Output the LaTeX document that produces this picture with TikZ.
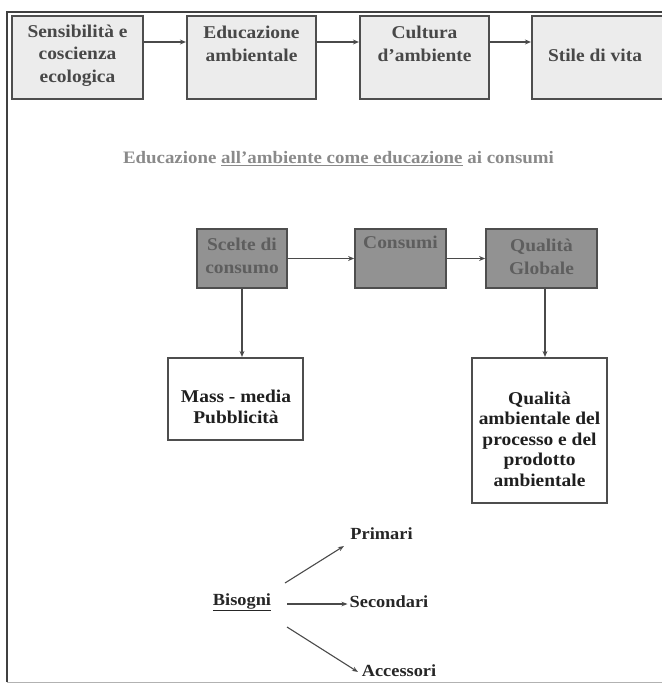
\documentclass[tikz,border=0pt]{standalone}
\usepackage{fontspec}
\setmainfont{Liberation Serif}[FakeStretch=1.08]
\usetikzlibrary{arrows.meta}
\definecolor{topfill}{HTML}{ECECEC}
\definecolor{midfill}{HTML}{929292}
\definecolor{boxline}{HTML}{4E4E4E}
\definecolor{toptext}{HTML}{484848}
\definecolor{midtext}{HTML}{5E5E5E}
\definecolor{titletext}{HTML}{8A8A8A}
\definecolor{arrowcol}{HTML}{4A4A4A}
\tikzset{
  topbox/.style={draw=boxline, line width=2.2pt, fill=topfill, inner sep=0pt},
  midbox/.style={draw=boxline, line width=1.8pt, fill=midfill, inner sep=0pt},
  lowbox/.style={draw=boxline, line width=2.2pt, fill=white, inner sep=0pt},
  toplabel/.style={inner sep=0pt, align=center, text=toptext, font=\bfseries\fontsize{18}{22.5}\selectfont},
  midlabel/.style={inner sep=0pt, align=center, text=midtext, font=\bfseries\fontsize{18}{23}\selectfont},
  lowlabel/.style={inner sep=0pt, align=center, text=black!88, font=\bfseries\fontsize{18}{20.5}\selectfont},
  plainlabel/.style={inner sep=0pt, text=black!85, font=\bfseries\fontsize{17}{20}\selectfont},
  conn/.style={draw=arrowcol, line width=1.7pt, -{Stealth[length=6pt,width=5pt]}},
  thinconn/.style={draw=arrowcol, line width=1.1pt, -{Stealth[length=6pt,width=4.5pt]}}
}
\begin{document}
\begin{tikzpicture}[x=1pt,y=-1pt]
\useasboundingbox (0,0) rectangle (661,685);
% outer frame
\coordinate (fbl) at (7,682);
\coordinate (ftl) at (7,12);
\coordinate (ftr) at (670,12);
\coordinate (fbr) at (670,682);
\draw[black!75, line width=1.4pt] (fbl) -- (ftl) -- (ftr);
\draw[black!30, line width=1pt] (fbl) -- (fbr);

% top row
\node[topbox, minimum width=131pt, minimum height=83pt] (b1) at (77.5,57.5) {};
\node[topbox, minimum width=129pt, minimum height=83pt] (b2) at (251.5,57.5) {};
\node[topbox, minimum width=129pt, minimum height=83pt] (b3) at (424.5,57.5) {};
\node[topbox, minimum width=132pt, minimum height=83pt] (b4) at (598,57.5) {};
\node[toplabel] (t1) at (77.5,55.5) {Sensibilità e\\coscienza\\ecologica};
\node[toplabel] (t2) at (251.5,44) {Educazione\\ambientale};
\node[toplabel] (t3) at (424.5,44) {Cultura\\d’ambiente};
\node[toplabel] (t4) at (595,55) {Stile di vita};
\draw[conn] ([yshift=15.5pt]b1.east) -- ([yshift=15.5pt]b2.west);
\draw[conn] ([yshift=15.5pt]b2.east) -- ([yshift=15.5pt]b3.west);
\draw[conn] ([yshift=15.5pt]b3.east) -- ([yshift=15.5pt]b4.west);

% title
\node[inner sep=0pt, text=titletext, font=\bfseries\fontsize{17.5}{20}\selectfont] (title) at (338.5,159)
  {Educazione \underline{all’ambiente come educazione} ai consumi};

% middle row
\node[midbox, minimum width=90pt, minimum height=59pt] (s) at (242,258.5) {};
\node[midbox, minimum width=91pt, minimum height=59pt] (c) at (400.5,258.5) {};
\node[midbox, minimum width=111pt, minimum height=59pt] (q) at (541.5,258.5) {};
\node[midlabel] (ts) at (242,256) {Scelte di\\consumo};
\node[midlabel] (tc) at (400.5,242.5) {Consumi};
\node[midlabel] (tq) at (541.5,256.5) {Qualità\\Globale};
\draw[conn] (s) -- (c);
\draw[conn] (c) -- (q);

% lower boxes
\node[lowbox, minimum width=135pt, minimum height=82pt] (m) at (235.5,399) {};
\node[lowbox, minimum width=135pt, minimum height=145pt] (qa) at (539.5,430.5) {};
\node[lowlabel] (tm) at (236,407) {Mass - media\\Pubblicità};
\node[lowlabel] (tqa) at (539.5,439) {Qualità\\ambientale del\\processo e del\\prodotto\\ambientale};
\draw[conn] (s.south) -- (s.south |- m.north);
\draw[conn] ([xshift=3.5pt]q.south) -- ([xshift=3.5pt]q.south |- qa.north);

% needs
\node[plainlabel] (bis) at (242,602) {\underline{Bisogni}};
\node[plainlabel] (pri) at (381.5,534) {Primari};
\node[plainlabel] (sec) at (389,602) {Secondari};
\node[plainlabel] (acc) at (399,671) {Accessori};
\coordinate (bup) at (285,583);
\coordinate (bmid) at (287,604);
\coordinate (bdn) at (287,627);
\coordinate (pend) at (344,546);
\coordinate (aend) at (358,672);
\draw[thinconn] (bup) -- (pend);
\draw[thinconn, shorten >=2pt] (bmid) -- (sec.west |- bmid);
\draw[thinconn] (bdn) -- (aend);
\end{tikzpicture}
\end{document}
